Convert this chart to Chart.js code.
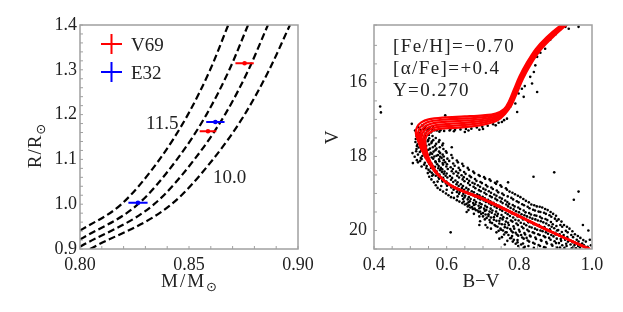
<!DOCTYPE html>
<html>
<head>
<meta charset="utf-8">
<script src="https://cdn.jsdelivr.net/npm/chart.js@4.4.1/dist/chart.umd.min.js"></script>
<style>
  html, body { margin: 0; padding: 0; background: #fff; }
  #wrap { position: relative; width: 623px; height: 312px; overflow: hidden; }
  #left { position: absolute; left: 0; top: 0; }
  #right { position: absolute; left: 311px; top: 0; }
</style>
</head>
<body>
<div id="wrap">
  <canvas id="left" width="330" height="312"></canvas>
  <canvas id="right" width="312" height="312"></canvas>
</div>
<script>
// ---- left panel: mass-radius ----
const massTicks = [0.80, 0.85, 0.90];
const radiusTicks = [0.9, 1.0, 1.1, 1.2, 1.3, 1.4];

// isochrone tracks [M, R], from 11.5 Gyr (left) to 10.0 Gyr (right)
const track1 = [[0.800, 0.941], [0.819, 1.0], [0.8365, 1.1], [0.8495, 1.2], [0.8597, 1.3], [0.8680, 1.4]];
const track2 = [[0.800, 0.921], [0.8266, 1.0], [0.8445, 1.1], [0.8580, 1.2], [0.8685, 1.3], [0.8771, 1.4]];
const track3 = [[0.800, 0.905], [0.8340, 1.0], [0.8525, 1.1], [0.8665, 1.2], [0.8773, 1.3], [0.8862, 1.4]];
const track4 = [[0.8046, 0.9], [0.8420, 1.0], [0.8610, 1.1], [0.8755, 1.2], [0.8868, 1.3], [0.8963, 1.4]];
const trackLabels = ['11.5', '10.0'];

const starNames = ['V69', 'E32'];
const v69Mass = [0.8755, 0.8587];
const v69Radius = [1.3145, 1.1627];
const v69MassErr = [0.0042, 0.0038];
const v69RadiusErr = [0.003, 0.003];
const e32Mass = [0.8621, 0.8266];
const e32Radius = [1.1835, 1.0034];
const e32MassErr = [0.0042, 0.0044];
const e32RadiusErr = [0.003, 0.003];

// ---- right panel: colour-magnitude diagram ----
const colourTicks = [0.4, 0.6, 0.8, 1.0];
const magTicks = [16, 18, 20];
const cmdNotes = ['[Fe/H]=\u22120.70', '[\u03b1/Fe]=+0.4', 'Y=0.270'];

// isochrones [B-V, V]
const isoA = [[0.990,20.50],[0.880,19.995],[0.789,19.555],[0.697,19.12],[0.650,18.95],[0.605,18.74],[0.572,18.46],[0.547,18.12],[0.530,17.80],[0.519,17.52],[0.515,17.35],[0.519,17.20],[0.530,17.08],[0.550,17.00],[0.590,16.95],[0.650,16.92],[0.700,16.89],[0.735,16.84],[0.758,16.72],[0.772,16.50],[0.785,16.20],[0.800,15.85],[0.820,15.48],[0.845,15.10],[0.875,14.78],[0.915,14.45],[0.930,14.37]];
const isoB = [[0.991,20.50],[0.881,20.002],[0.790,19.562],[0.698,19.128],[0.651,18.958],[0.606,18.748],[0.573,18.468],[0.549,18.128],[0.533,17.812],[0.523,17.536],[0.521,17.372],[0.526,17.232],[0.538,17.12],[0.557,17.05],[0.596,17.006],[0.654,16.974],[0.702,16.936],[0.736,16.876],[0.758,16.748],[0.773,16.52],[0.787,16.214],[0.802,15.86],[0.822,15.488],[0.848,15.106],[0.878,14.784],[0.918,14.45],[0.933,14.37]];
const isoC = [[0.992,20.50],[0.882,20.009],[0.790,19.569],[0.698,19.136],[0.652,18.966],[0.607,18.756],[0.574,18.476],[0.551,18.136],[0.536,17.824],[0.528,17.552],[0.527,17.394],[0.533,17.264],[0.546,17.16],[0.564,17.10],[0.602,17.062],[0.658,17.028],[0.704,16.982],[0.737,16.912],[0.759,16.776],[0.775,16.54],[0.789,16.228],[0.804,15.87],[0.824,15.496],[0.850,15.112],[0.881,14.788],[0.921,14.45],[0.936,14.37]];
const isoD = [[0.993,20.50],[0.883,20.016],[0.791,19.576],[0.699,19.144],[0.653,18.974],[0.608,18.764],[0.576,18.484],[0.552,18.144],[0.539,17.836],[0.532,17.568],[0.532,17.416],[0.539,17.296],[0.554,17.20],[0.571,17.15],[0.608,17.118],[0.662,17.082],[0.706,17.028],[0.738,16.948],[0.759,16.804],[0.776,16.56],[0.790,16.242],[0.806,15.88],[0.827,15.504],[0.853,15.118],[0.884,14.792],[0.924,14.45],[0.940,14.37]];
const isoE = [[0.994,20.50],[0.884,20.023],[0.791,19.583],[0.699,19.152],[0.654,18.982],[0.609,18.772],[0.577,18.492],[0.554,18.152],[0.542,17.848],[0.537,17.584],[0.538,17.438],[0.546,17.328],[0.562,17.24],[0.578,17.20],[0.614,17.174],[0.666,17.136],[0.708,17.074],[0.739,16.984],[0.760,16.832],[0.778,16.58],[0.792,16.256],[0.808,15.89],[0.829,15.512],[0.855,15.124],[0.887,14.796],[0.927,14.45],[0.943,14.37]];
const isoF = [[0.995,20.50],[0.885,20.03],[0.792,19.59],[0.700,19.16],[0.655,18.99],[0.610,18.78],[0.578,18.50],[0.556,18.16],[0.545,17.86],[0.541,17.60],[0.544,17.46],[0.553,17.36],[0.570,17.28],[0.585,17.25],[0.620,17.23],[0.670,17.19],[0.710,17.12],[0.740,17.02],[0.760,16.86],[0.779,16.60],[0.794,16.27],[0.810,15.90],[0.831,15.52],[0.858,15.13],[0.890,14.80],[0.930,14.45],[0.946,14.37]];

// cluster stars [B-V, V]
const stars = [
  [0.513,17.30],[0.517,17.45],[0.514,17.61],[0.518,17.72],[0.516,17.86],[0.512,18.01],
  [0.522,17.21],[0.527,17.36],[0.524,17.49],[0.528,17.63],[0.523,17.76],[0.526,17.88],[0.529,18.04],[0.521,18.16],
  [0.533,17.16],[0.538,17.27],[0.532,17.41],[0.536,17.54],[0.539,17.69],[0.534,17.81],[0.537,17.93],[0.531,18.07],[0.538,18.22],
  [0.543,17.18],[0.547,17.31],[0.542,17.44],[0.548,17.59],[0.544,17.71],[0.546,17.84],[0.541,17.97],[0.549,18.10],[0.545,18.26],
  [0.553,17.22],[0.557,17.35],[0.552,17.51],[0.558,17.64],[0.554,17.79],[0.556,17.90],[0.559,18.03],[0.551,18.15],[0.557,18.31],[0.554,18.41],
  [0.562,17.20],[0.567,17.29],[0.563,17.56],[0.568,17.71],[0.564,17.87],[0.566,18.00],[0.569,18.13],[0.561,18.25],[0.567,18.36],[0.563,18.49],
  [0.573,17.30],[0.578,17.61],[0.572,17.79],[0.576,17.96],[0.579,18.08],[0.574,18.21],[0.577,18.32],[0.571,18.44],[0.578,18.56],
  [0.583,17.29],[0.588,17.70],[0.582,17.91],[0.586,18.04],[0.589,18.18],[0.584,18.31],[0.587,18.42],[0.581,18.54],[0.588,18.64],
  [0.593,17.31],[0.598,17.86],[0.592,18.00],[0.596,18.16],[0.599,18.27],[0.594,18.41],[0.597,18.52],[0.591,18.62],[0.598,18.73],
  [0.608,17.30],[0.613,17.96],[0.607,18.12],[0.611,18.29],[0.614,18.40],[0.609,18.53],[0.612,18.63],[0.606,18.74],[0.613,18.84],
  [0.623,17.28],[0.628,18.11],[0.622,18.25],[0.626,18.41],[0.629,18.52],[0.624,18.65],[0.627,18.75],[0.621,18.86],[0.628,18.96],
  [0.638,17.27],[0.643,18.20],[0.637,18.37],[0.641,18.51],[0.644,18.62],[0.639,18.75],[0.642,18.85],[0.636,18.96],[0.643,19.06],
  [0.653,17.26],[0.658,18.31],[0.652,18.47],[0.656,18.61],[0.659,18.72],[0.654,18.85],[0.657,18.95],[0.651,19.06],[0.658,19.16],[0.655,19.28],
  [0.668,17.25],[0.673,18.41],[0.667,18.56],[0.671,18.71],[0.674,18.82],[0.669,18.94],[0.672,19.04],[0.666,19.15],[0.673,19.26],[0.670,19.37],
  [0.683,17.22],[0.688,18.50],[0.682,18.66],[0.686,18.78],[0.689,18.91],[0.684,19.02],[0.687,19.13],[0.681,19.23],[0.688,19.33],[0.685,19.46],
  [0.698,17.20],[0.703,18.56],[0.697,18.72],[0.701,18.87],[0.704,18.98],[0.699,19.09],[0.702,19.19],[0.696,19.29],[0.703,19.41],[0.700,19.53],
  [0.713,17.17],[0.718,18.62],[0.712,18.81],[0.716,18.94],[0.719,19.07],[0.714,19.17],[0.717,19.27],[0.711,19.37],[0.718,19.49],[0.715,19.61],
  [0.728,17.13],[0.733,18.71],[0.727,18.88],[0.731,19.03],[0.734,19.14],[0.729,19.25],[0.732,19.35],[0.726,19.46],[0.733,19.57],[0.730,19.71],
  [0.743,17.09],[0.748,18.78],[0.742,18.97],[0.746,19.11],[0.749,19.22],[0.744,19.33],[0.747,19.43],[0.741,19.55],[0.748,19.67],[0.745,19.81],[0.743,20.01],
  [0.758,17.02],[0.763,18.86],[0.757,19.04],[0.761,19.19],[0.764,19.30],[0.759,19.42],[0.762,19.52],[0.756,19.64],[0.763,19.76],[0.760,19.91],[0.758,20.11],
  [0.773,18.95],[0.778,19.12],[0.772,19.28],[0.776,19.39],[0.779,19.51],[0.774,19.61],[0.777,19.73],[0.771,19.85],[0.778,20.01],[0.775,20.21],
  [0.788,19.02],[0.793,19.21],[0.787,19.35],[0.791,19.48],[0.794,19.58],[0.789,19.71],[0.792,19.81],[0.786,19.95],[0.793,20.11],[0.790,20.36],
  [0.803,19.10],[0.808,19.29],[0.802,19.42],[0.806,19.56],[0.809,19.66],[0.804,19.79],[0.807,19.90],[0.801,20.03],[0.808,20.19],
  [0.818,19.20],[0.823,19.36],[0.817,19.51],[0.821,19.62],[0.824,19.75],[0.819,19.86],[0.822,19.98],[0.816,20.11],[0.823,20.27],
  [0.833,19.30],[0.838,19.44],[0.832,19.57],[0.836,19.68],[0.839,19.81],[0.834,19.92],[0.837,20.05],[0.831,20.16],[0.838,20.33],
  [0.848,19.35],[0.853,19.49],[0.847,19.60],[0.851,19.73],[0.854,19.85],[0.849,19.98],[0.852,20.10],[0.846,20.23],[0.853,20.39],
  [0.863,19.38],[0.868,19.52],[0.862,19.67],[0.866,19.78],[0.869,19.91],[0.864,20.02],[0.867,20.15],[0.861,20.28],[0.868,20.45],
  [0.878,19.45],[0.883,19.59],[0.877,19.72],[0.881,19.86],[0.884,19.97],[0.879,20.09],[0.882,20.20],[0.876,20.35],
  [0.893,19.55],[0.898,19.68],[0.892,19.83],[0.896,19.94],[0.899,20.06],[0.894,20.16],[0.897,20.29],[0.891,20.41],
  [0.908,19.70],[0.913,19.85],[0.907,19.99],[0.911,20.10],[0.914,20.23],[0.909,20.34],[0.912,20.46],
  [0.923,19.85],[0.928,20.01],[0.922,20.12],[0.926,20.25],[0.929,20.36],[0.924,20.47],
  [0.938,19.95],[0.943,20.12],[0.937,20.27],[0.941,20.38],[0.944,20.48],
  [0.953,20.10],[0.958,20.25],[0.952,20.39],[0.956,20.48],
  [0.968,20.20],[0.973,20.35],[0.967,20.46],
  [0.983,20.30],[0.988,20.44],[0.994,20.25],[0.997,20.40],
  // second pass over the main sequence
  [0.519,17.38],[0.515,17.53],[0.520,17.67],[0.517,17.80],[0.521,17.95],[0.518,18.10],
  [0.529,17.29],[0.531,17.43],[0.528,17.56],[0.532,17.70],[0.530,17.84],[0.533,17.99],[0.527,18.12],[0.531,18.27],
  [0.540,17.23],[0.542,17.37],[0.539,17.50],[0.541,17.64],[0.543,17.77],[0.538,17.90],[0.542,18.03],[0.540,18.17],[0.544,18.32],
  [0.550,17.27],[0.551,17.42],[0.549,17.56],[0.552,17.68],[0.550,17.82],[0.553,17.95],[0.548,18.07],[0.552,18.20],[0.550,18.36],
  [0.560,17.28],[0.561,17.45],[0.559,17.60],[0.562,17.75],[0.560,17.93],[0.563,18.06],[0.558,18.19],[0.561,18.30],[0.559,18.44],
  [0.570,17.50],[0.571,17.66],[0.569,17.83],[0.572,17.98],[0.570,18.16],[0.568,18.28],[0.572,18.40],[0.570,18.52],
  [0.580,17.56],[0.581,17.75],[0.579,17.87],[0.582,18.01],[0.580,18.13],[0.578,18.26],[0.582,18.37],[0.580,18.49],[0.579,18.60],
  [0.590,17.65],[0.591,17.80],[0.589,17.95],[0.592,18.10],[0.590,18.22],[0.588,18.35],[0.592,18.47],[0.590,18.58],[0.589,18.68],
  [0.600,17.90],[0.602,18.06],[0.601,18.21],[0.603,18.34],[0.600,18.46],[0.602,18.57],[0.599,18.68],[0.601,18.79],
  [0.616,18.04],[0.618,18.19],[0.617,18.34],[0.619,18.46],[0.615,18.58],[0.618,18.69],[0.616,18.80],[0.619,18.90],
  [0.631,18.16],[0.633,18.31],[0.632,18.45],[0.634,18.57],[0.630,18.70],[0.633,18.80],[0.631,18.91],[0.634,19.01],
  [0.646,18.26],[0.648,18.42],[0.647,18.56],[0.649,18.67],[0.645,18.80],[0.648,18.90],[0.646,19.01],[0.649,19.11],[0.647,19.22],
  [0.661,18.36],[0.663,18.52],[0.662,18.66],[0.664,18.77],[0.660,18.89],[0.663,19.00],[0.661,19.10],[0.664,19.21],[0.662,19.32],[0.660,19.45],
  [0.676,18.45],[0.678,18.61],[0.677,18.74],[0.679,18.86],[0.675,18.97],[0.678,19.08],[0.676,19.18],[0.679,19.29],[0.677,19.41],[0.675,19.55],
  [0.691,18.53],[0.693,18.69],[0.692,18.82],[0.694,18.94],[0.690,19.05],[0.693,19.16],[0.691,19.26],[0.694,19.37],[0.692,19.49],[0.690,19.62],[0.692,19.75],
  [0.706,18.60],[0.708,18.77],[0.707,18.90],[0.709,19.02],[0.705,19.13],[0.708,19.23],[0.706,19.33],[0.709,19.45],[0.707,19.57],[0.705,19.70],[0.707,19.85],
  [0.721,18.66],[0.723,18.84],[0.722,18.98],[0.724,19.10],[0.720,19.21],[0.723,19.31],[0.721,19.41],[0.724,19.52],[0.722,19.65],[0.720,19.78],[0.722,19.95],
  [0.736,18.74],[0.738,18.92],[0.737,19.06],[0.739,19.18],[0.735,19.29],[0.738,19.39],[0.736,19.49],[0.739,19.61],[0.737,19.74],[0.735,19.88],[0.737,20.05],
  [0.751,18.82],[0.753,19.00],[0.752,19.14],[0.754,19.26],[0.750,19.37],[0.753,19.47],[0.751,19.58],[0.754,19.70],[0.752,19.83],[0.750,19.98],[0.752,20.18],
  [0.766,18.90],[0.768,19.08],[0.767,19.23],[0.769,19.35],[0.765,19.45],[0.768,19.56],[0.766,19.67],[0.769,19.79],[0.767,19.93],[0.765,20.05],[0.767,20.28],
  [0.781,18.98],[0.783,19.16],[0.782,19.31],[0.784,19.43],[0.780,19.54],[0.783,19.65],[0.781,19.76],[0.784,19.89],[0.782,20.05],[0.780,20.15],[0.782,20.30],
  [0.796,19.06],[0.798,19.24],[0.797,19.38],[0.799,19.51],[0.795,19.62],[0.798,19.73],[0.796,19.85],[0.799,19.98],[0.797,20.14],[0.795,20.26],[0.797,20.42],
  [0.811,19.15],[0.813,19.32],[0.812,19.46],[0.814,19.59],[0.810,19.70],[0.813,19.82],[0.811,19.94],[0.814,20.07],[0.812,20.22],[0.810,20.35],[0.812,20.47],
  [0.826,19.24],[0.828,19.40],[0.827,19.53],[0.829,19.65],[0.825,19.78],[0.828,19.90],[0.826,20.02],[0.829,20.14],[0.827,20.30],[0.825,20.42],
  [0.841,19.32],[0.843,19.46],[0.842,19.59],[0.844,19.70],[0.840,19.83],[0.843,19.95],[0.841,20.07],[0.844,20.19],[0.842,20.36],[0.840,20.47],
  [0.856,19.36],[0.858,19.50],[0.857,19.63],[0.859,19.75],[0.855,19.88],[0.858,20.00],[0.856,20.12],[0.859,20.26],[0.857,20.42],
  [0.871,19.42],[0.873,19.55],[0.872,19.69],[0.874,19.81],[0.870,19.94],[0.873,20.05],[0.871,20.18],[0.874,20.31],[0.872,20.46],
  [0.886,19.50],[0.888,19.63],[0.887,19.77],[0.889,19.90],[0.885,20.01],[0.888,20.12],[0.886,20.25],[0.889,20.38],
  [0.901,19.60],[0.903,19.74],[0.902,19.88],[0.904,20.00],[0.900,20.11],[0.903,20.22],[0.901,20.34],[0.904,20.46],
  [0.916,19.76],[0.918,19.90],[0.917,20.04],[0.919,20.16],[0.915,20.28],[0.918,20.40],
  [0.931,19.90],[0.933,20.05],[0.932,20.18],[0.934,20.30],[0.930,20.42],
  [0.946,20.02],[0.948,20.18],[0.947,20.32],[0.949,20.44],
  [0.961,20.15],[0.963,20.30],[0.962,20.42],[0.976,20.26],[0.978,20.40],
  // faint side of the main sequence
  [0.548,18.45],[0.552,18.55],[0.558,18.62],[0.565,18.70],[0.570,18.78],[0.575,18.85],[0.582,18.90],[0.590,18.95],
  [0.598,19.00],[0.605,19.05],[0.612,19.10],[0.620,19.12],[0.628,19.18],[0.635,19.22],[0.643,19.26],[0.650,19.30],
  [0.658,19.35],[0.665,19.38],[0.672,19.42],[0.680,19.45],[0.688,19.50],[0.695,19.55],[0.700,19.62],[0.710,19.66],
  [0.718,19.72],[0.725,19.80],[0.732,19.85],[0.740,19.90],[0.748,19.95],[0.755,20.00],[0.762,20.05],[0.770,20.12],
  [0.778,20.20],[0.785,20.25],[0.795,20.32],[0.805,20.38],[0.815,20.44],
  [0.560,18.52],[0.575,18.68],[0.585,18.80],[0.600,18.90],[0.615,18.98],[0.630,19.08],[0.645,19.15],[0.660,19.24],
  [0.675,19.31],[0.690,19.40],[0.705,19.47],[0.715,19.56],[0.730,19.64],[0.745,19.74],[0.760,19.84],[0.775,19.96],
  [0.790,20.06],[0.805,20.12],[0.820,20.20],[0.712,19.92],[0.745,20.22],[0.690,19.85],[0.760,20.38],[0.655,19.50],
  // subgiant branch
  [0.580,17.33],[0.620,17.32],[0.660,17.30],[0.700,17.26],[0.650,17.34],[0.610,17.27],[0.690,17.28],[0.735,17.16],
  // giant branch
  [0.752,17.07],[0.766,16.98],[0.775,16.66],[0.789,16.57],[0.794,16.80],[0.798,16.30],[0.807,16.17],[0.812,16.39],
  [0.835,16.03],[0.840,15.72],[0.844,15.54],[0.849,15.31],[0.849,16.26],[0.871,15.09],[0.927,14.50],[0.936,14.55],
  [0.963,14.50],[0.780,16.45],[0.802,15.95],[0.815,16.10],[0.830,15.85],[0.858,15.20],[0.885,14.85],[0.900,14.70],[0.912,14.58],
  // field stars
  [0.417,16.65],[0.419,16.81],[0.504,17.12],[0.506,17.91],[0.507,18.18],[0.839,18.55],[0.896,18.43],[0.963,18.95],
  [0.950,19.17],[0.611,20.05],[0.739,18.68],[0.769,18.70],[0.614,17.75],[0.596,16.89],[0.990,20.00],[0.975,19.85]
];

const SERIF = '"Liberation Serif", "DejaVu Serif", serif';
Chart.defaults.font.family = SERIF;
Chart.defaults.font.size = 18;
Chart.defaults.color = '#222';

const near = (v, list) => list.some(t => Math.abs(t - v) < 1e-6);
const pts = arr => arr.map(p => ({ x: p[0], y: p[1] }));

function frameAndTicks(chart) {
  const { ctx, chartArea: a, scales } = chart;
  ctx.save();
  ctx.strokeStyle = '#a0a0a0';
  ctx.lineWidth = 1;
  ctx.beginPath();
  scales.x.ticks.forEach(t => {
    const px = scales.x.getPixelForValue(t.value);
    ctx.moveTo(px, a.bottom); ctx.lineTo(px, a.bottom - 3);
  });
  scales.y.ticks.forEach(t => {
    const py = scales.y.getPixelForValue(t.value);
    ctx.moveTo(a.left, py); ctx.lineTo(a.left + 3, py);
  });
  ctx.stroke();
  ctx.lineWidth = 1.5;
  ctx.strokeRect(a.left, a.top, a.right - a.left, a.bottom - a.top);
  ctx.restore();
}

// axis title with an optional small lowered sun symbol at the end
function subText(ctx, main, sub, x, y, rotate, spacing) {
  ctx.save();
  ctx.translate(x, y);
  if (rotate) ctx.rotate(-Math.PI / 2);
  ctx.letterSpacing = (spacing || 0) + 'px';
  ctx.font = '19px ' + SERIF;
  const w1 = ctx.measureText(main).width;
  ctx.letterSpacing = '0px';
  ctx.font = '13px "DejaVu Sans", sans-serif';
  const w2 = sub ? ctx.measureText(sub).width : 0;
  const start = -(w1 + w2) / 2;
  ctx.fillStyle = '#222';
  ctx.textBaseline = 'alphabetic';
  ctx.textAlign = 'left';
  ctx.letterSpacing = (spacing || 0) + 'px';
  ctx.font = '19px ' + SERIF;
  ctx.fillText(main, start, 0);
  if (sub) {
    ctx.letterSpacing = '0px';
    ctx.font = '13px "DejaVu Sans", sans-serif';
    ctx.fillText(sub, start + w1, 3.5);
  }
  ctx.restore();
}

const leftDeco = {
  id: 'leftDeco',
  afterDatasetsDraw(chart) {
    const { ctx, scales: { x, y } } = chart;
    const series = [
      [v69Mass, v69Radius, v69MassErr, v69RadiusErr, '#ff0000'],
      [e32Mass, e32Radius, e32MassErr, e32RadiusErr, '#0000ff']
    ];
    ctx.save();
    ctx.lineWidth = 2;
    series.forEach(([m, r, me, re, col]) => {
      ctx.strokeStyle = col;
      m.forEach((mv, i) => {
        ctx.beginPath();
        ctx.moveTo(x.getPixelForValue(mv - me[i]), y.getPixelForValue(r[i]));
        ctx.lineTo(x.getPixelForValue(mv + me[i]), y.getPixelForValue(r[i]));
        ctx.moveTo(x.getPixelForValue(mv), y.getPixelForValue(r[i] - re[i]));
        ctx.lineTo(x.getPixelForValue(mv), y.getPixelForValue(r[i] + re[i]));
        ctx.stroke();
      });
    });
    ctx.restore();
  },
  afterDraw(chart) {
    const { ctx, scales: { x, y } } = chart;
    frameAndTicks(chart);
    ctx.save();
    ctx.fillStyle = '#222';
    ctx.font = '19px ' + SERIF;
    ctx.textBaseline = 'alphabetic';
    ctx.fillText(trackLabels[0], x.getPixelForValue(0.8303), y.getPixelForValue(1.168));
    ctx.fillText(trackLabels[1], x.getPixelForValue(0.861), y.getPixelForValue(1.047));
    // legend
    const cols = ['#ff0000', '#0000ff'];
    starNames.forEach((name, i) => {
      const cy = 44 + i * 28;
      ctx.strokeStyle = cols[i];
      ctx.lineWidth = 2;
      ctx.beginPath();
      ctx.moveTo(101, cy); ctx.lineTo(122, cy);
      ctx.moveTo(111.5, cy - 10); ctx.lineTo(111.5, cy + 10);
      ctx.stroke();
      ctx.fillStyle = '#222';
      ctx.fillText(name, 131, cy + 6.5);
    });
    ctx.restore();
    subText(ctx, 'M/M', '\u2299', 189, 287, false, 2);
    subText(ctx, 'R/R', '\u2299', 41, 146, true, 1);
  }
};

const rightDeco = {
  id: 'rightDeco',
  afterDraw(chart) {
    const { ctx } = chart;
    frameAndTicks(chart);
    ctx.save();
    ctx.fillStyle = '#222';
    ctx.font = '19px ' + SERIF;
    ctx.letterSpacing = '1.4px';
    ctx.textBaseline = 'alphabetic';
    cmdNotes.forEach((t, i) => ctx.fillText(t, 393 - 311, 51.5 + i * 22));
    ctx.restore();
    subText(ctx, 'B\u2212V', '', 481 - 311, 287, false, 0);
    subText(ctx, 'V', '', 338 - 311, 137.5, true, 0);
  }
};

const baseOpts = padRight => ({
  responsive: false,
  animation: false,
  events: [],
  layout: { padding: { left: 0, right: padRight, top: 25, bottom: 0 } },
  plugins: { legend: { display: false }, tooltip: { enabled: false } }
});

function dashed(data) {
  return {
    type: 'line', data: pts(data), showLine: true, order: 2,
    borderColor: '#000', borderWidth: 2.2, borderDash: [7, 3.5],
    pointRadius: 0, fill: false, cubicInterpolationMode: 'monotone'
  };
}

new Chart(document.getElementById('left').getContext('2d'), {
  type: 'scatter',
  data: {
    datasets: [
      { label: starNames[0], data: v69Mass.map((m, i) => ({ x: m, y: v69Radius[i] })),
        pointRadius: 2.3, backgroundColor: '#ff0000', borderWidth: 0, order: 0 },
      { label: starNames[1], data: e32Mass.map((m, i) => ({ x: m, y: e32Radius[i] })),
        pointRadius: 2.3, backgroundColor: '#0000ff', borderWidth: 0, order: 0 },
      dashed(track1), dashed(track2), dashed(track3), dashed(track4)
    ]
  },
  options: {
    ...baseOpts(32),
    scales: {
      x: {
        type: 'linear', min: 0.80, max: 0.90,
        grid: { display: false, drawTicks: false }, border: { display: false },
        ticks: { stepSize: 0.01, padding: 5, maxRotation: 0, autoSkip: false,
          callback: v => near(v, massTicks) ? v.toFixed(2) : '' },
        afterFit: s => { s.height = 63; s.paddingLeft = 0; s.paddingRight = 0; }
      },
      y: {
        type: 'linear', min: 0.9, max: 1.4,
        grid: { display: false, drawTicks: false }, border: { display: false },
        ticks: { stepSize: 0.02, padding: 3, autoSkip: false,
          callback: v => near(v, radiusTicks) ? v.toFixed(1) : '' },
        afterFit: s => { s.width = 80; s.paddingTop = 0; s.paddingBottom = 0; }
      }
    }
  },
  plugins: [leftDeco]
});

const isoSet = data => ({
  type: 'line', data: pts(data), showLine: true, order: 0,
  borderColor: '#ff0000', borderWidth: 2.2, pointRadius: 0, fill: false, tension: 0.35
});

new Chart(document.getElementById('right').getContext('2d'), {
  type: 'scatter',
  data: {
    datasets: [
      isoSet(isoA), isoSet(isoB), isoSet(isoC), isoSet(isoD), isoSet(isoE), isoSet(isoF),
      { data: pts(stars), pointRadius: 1.3, backgroundColor: '#000', borderWidth: 0, order: 1 }
    ]
  },
  options: {
    ...baseOpts(31),
    scales: {
      x: {
        type: 'linear', min: 0.4, max: 1.0,
        grid: { display: false, drawTicks: false }, border: { display: false },
        ticks: { stepSize: 0.05, padding: 5, maxRotation: 0, autoSkip: false,
          callback: v => near(v, colourTicks) ? v.toFixed(1) : '' },
        afterFit: s => { s.height = 63; s.paddingLeft = 0; s.paddingRight = 0; }
      },
      y: {
        type: 'linear', min: 14.45, max: 20.5, reverse: true,
        grid: { display: false, drawTicks: false }, border: { display: false },
        ticks: { stepSize: 0.5, padding: 7, autoSkip: false,
          callback: v => near(v, magTicks) ? String(Math.round(v)) : '' },
        afterFit: s => { s.width = 63; s.paddingTop = 0; s.paddingBottom = 0; }
      }
    }
  },
  plugins: [rightDeco]
});
</script>
</body>
</html>
